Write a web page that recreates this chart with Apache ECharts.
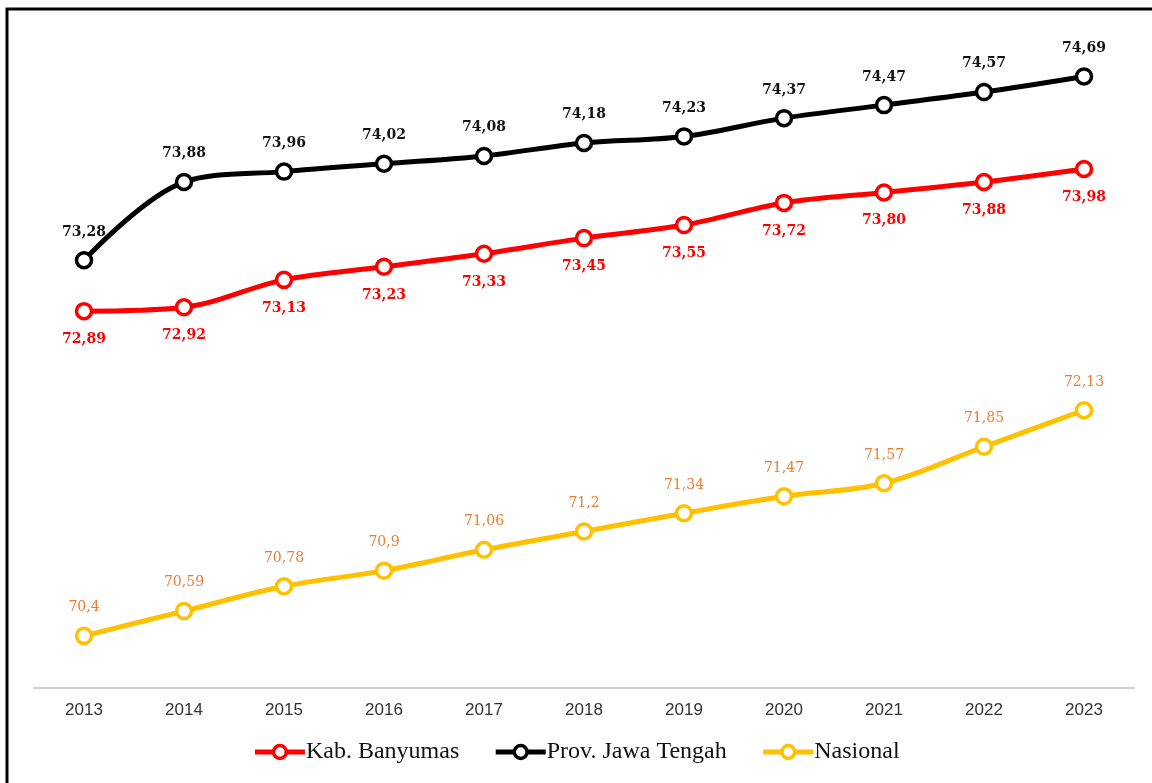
<!doctype html>
<html lang="id">
<head>
    <meta charset="UTF-8">
    <title>IPM Kab. Banyumas</title>
    <style>
        html, body {margin: 0; padding: 0; background: #fff;}
        #chart {width: 1152px; height: 783px;}
    </style>
</head>
<body>
<div id="chart"></div>
<script src="https://cdn.jsdelivr.net/npm/echarts@6/dist/echarts.min.js"></script>
<script>
    var years = ['2013', '2014', '2015', '2016', '2017', '2018', '2019', '2020', '2021', '2022', '2023'];
    var banyumas = [72.89, 72.92, 73.13, 73.23, 73.33, 73.45, 73.55, 73.72, 73.80, 73.88, 73.98];
    var jateng = [73.28, 73.88, 73.96, 74.02, 74.08, 74.18, 74.23, 74.37, 74.47, 74.57, 74.69];
    var nasional = [70.4, 70.59, 70.78, 70.9, 71.06, 71.2, 71.34, 71.47, 71.57, 71.85, 72.13];

    var labelFont = '"DejaVu Serif", serif';

    function fixed2(p) { return p.value.toFixed(2).replace('.', ','); }
    function plain(p) { return String(p.value).replace('.', ','); }

    function line(name, data, color, labelColor, pos, fmt, bold) {
        return {
            name: name,
            type: 'line',
            data: data,
            smooth: 0.35,
            symbol: 'circle',
            symbolSize: 15,
            lineStyle: {color: color, width: 5},
            itemStyle: {color: '#fff', borderColor: color, borderWidth: 3.5},
            label: {
                show: true,
                position: pos,
                distance: 12,
                color: labelColor,
                fontFamily: labelFont,
                fontWeight: bold ? 'bold' : 'normal',
                fontSize: 14,
                formatter: fmt
            },
            emphasis: {disabled: true}
        };
    }

    var chart = echarts.init(document.getElementById('chart'));
    chart.setOption({
        animation: false,
        backgroundColor: '#fff',
        graphic: [{
            type: 'rect',
            shape: {x: 7, y: 9, width: 1200, height: 900},
            style: {fill: 'none', stroke: '#000', lineWidth: 3},
            silent: true
        }],
        grid: {left: 34, right: 18, top: 36, bottom: 95},
        legend: {
            bottom: 14,
            left: 'center',
            itemGap: 34,
            itemWidth: 50,
            itemHeight: 16,
            lineStyle: {width: 5},
            itemStyle: {borderWidth: 3.5},
            textStyle: {fontFamily: '"Liberation Serif", serif', fontSize: 24, color: '#111', padding: [0, 0, 0, -4]},
            data: ['Kab. Banyumas', 'Prov. Jawa Tengah', 'Nasional']
        },
        xAxis: {
            type: 'category',
            data: years,
            boundaryGap: true,
            axisLine: {lineStyle: {color: '#d0d0d0', width: 2}},
            axisTick: {show: false},
            axisLabel: {color: '#333', fontSize: 17, fontFamily: '"Liberation Sans", Arial, sans-serif', margin: 14}
        },
        yAxis: {
            type: 'value',
            min: 70,
            max: 75,
            show: false,
            splitLine: {show: false}
        },
        series: [
            line('Kab. Banyumas', banyumas, '#ff0000', '#ff0000', 'bottom', fixed2, true),
            line('Prov. Jawa Tengah', jateng, '#000000', '#111111', 'top', fixed2, true),
            line('Nasional', nasional, '#ffc000', '#ed7d31', 'top', plain, false)
        ]
    });
</script>
</body>
</html>
